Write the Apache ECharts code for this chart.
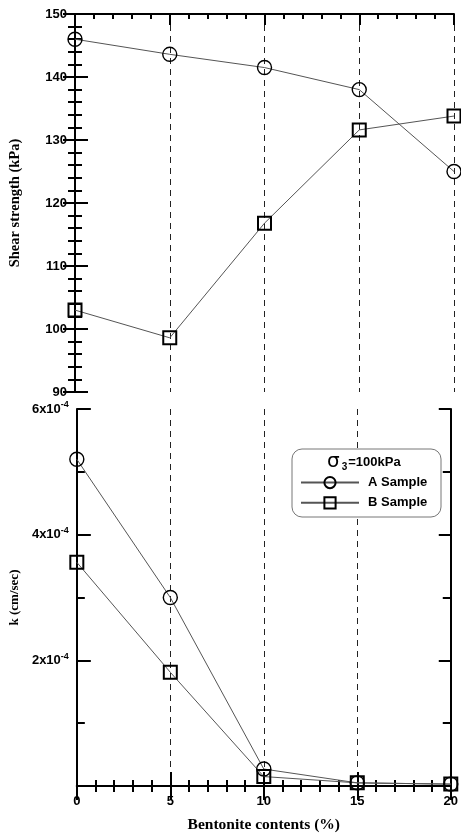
<!DOCTYPE html>
<html>
<head>
<meta charset="utf-8">
<script src="https://cdn.jsdelivr.net/npm/echarts@6/dist/echarts.min.js"></script>
<style>
html,body{margin:0;padding:0;background:#fff;}
#chart{width:461px;height:834px;}
</style>
</head>
<body>
<div id="chart"></div>
<script>
// Data
var bentonite = [0, 5, 10, 15, 20];
var shearA = [146, 143.6, 141.5, 138, 125];
var shearB = [103, 98.6, 116.8, 131.6, 133.8];
var kA = [5.2e-4, 3.0e-4, 0.27e-4, 0.05e-4, 0.03e-4];
var kB = [3.56e-4, 1.81e-4, 0.15e-4, 0.05e-4, 0.03e-4];
var seriesNames = ['A Sample', 'B Sample'];
var legendTitle = '=100kPa';

function pairs(xs, ys) { return xs.map(function (x, i) { return [x, ys[i]]; }); }

var chart = echarts.init(document.getElementById('chart'), null, {renderer: 'canvas'});
var axisColor = '#000';
var tickFont = {fontFamily: 'Liberation Sans, Arial', fontWeight: 'bold', fontSize: 13, color: '#000'};
function titleFont(sz) { return {fontFamily: 'Liberation Serif, Times New Roman', fontWeight: 'bold', fontSize: sz, color: '#000'}; }
var dashed = {show: true, lineStyle: {color: '#222', width: 1, type: [6, 5]}};
var noAxis = {show: false};

var L = 75, R = 7;
var symA = {symbol: 'circle', symbolSize: 14, itemStyle: {color: 'rgba(255,255,255,0)', borderColor: '#000', borderWidth: 1.4}};
var symB = {symbol: 'rect', symbolSize: 13, itemStyle: {color: 'rgba(255,255,255,0)', borderColor: '#000', borderWidth: 2}};
var line = {color: '#555', width: 1};

function mk(name, sym, xi, yi, data) {
  return Object.assign({
    type: 'line', name: name, xAxisIndex: xi, yAxisIndex: yi, data: data,
    lineStyle: line, showSymbol: true, animation: false, z: 5, clip: false
  }, sym);
}

var option = {
  animation: false,
  backgroundColor: '#fff',
  grid: [
    {left: L, right: R, top: 14, height: 378},
    {left: L, right: R, top: 409, height: 378}
  ],
  xAxis: [
    {gridIndex: 0, type: 'value', min: 0, max: 20, interval: 5, position: 'bottom',
     axisLine: noAxis, axisTick: noAxis, axisLabel: noAxis, splitLine: dashed},
    {gridIndex: 0, type: 'value', min: 0, max: 20, interval: 5, position: 'top',
     axisLine: {show: true, lineStyle: {color: axisColor, width: 2}},
     axisTick: {show: true, inside: true, length: 11, lineStyle: {color: axisColor, width: 2}},
     minorTick: {show: true, splitNumber: 5, length: 5, lineStyle: {color: axisColor, width: 2}},
     axisLabel: noAxis, splitLine: noAxis},
    {gridIndex: 1, type: 'value', min: 0, max: 20, interval: 5, position: 'bottom',
     axisLine: {show: true, onZero: false, lineStyle: {color: axisColor, width: 2}},
     axisTick: {show: true, inside: true, length: 8, lineStyle: {color: axisColor, width: 2}},
     minorTick: {show: true, splitNumber: 5, length: 6, lineStyle: {color: axisColor, width: 2}},
     axisLabel: Object.assign({margin: 9}, tickFont),
     splitLine: dashed,
     name: 'Bentonite contents (%)', nameLocation: 'middle', nameGap: 31, nameTextStyle: titleFont(15.5)},
    {gridIndex: 1, type: 'value', min: 0, max: 20, interval: 5, position: 'top', offset: 0,
     axisLine: {show: true, lineStyle: {color: axisColor, width: 2}},
     axisTick: {show: true, inside: true, length: 14, lineStyle: {color: axisColor, width: 2}},
     minorTick: {show: true, splitNumber: 5, length: 6, lineStyle: {color: axisColor, width: 2}},
     axisLabel: noAxis, splitLine: noAxis},
    {gridIndex: 1, type: 'value', min: 0, max: 20, interval: 5, position: 'top', offset: 0,
     axisLine: {show: false},
     axisTick: {show: true, inside: false, length: 14, lineStyle: {color: axisColor, width: 2}},
     minorTick: {show: true, splitNumber: 5, length: 6, lineStyle: {color: axisColor, width: 2}},
     axisLabel: noAxis, splitLine: noAxis}
  ],
  yAxis: [
    {gridIndex: 0, type: 'value', min: 90, max: 150, interval: 10, position: 'left',
     axisLine: {show: true, lineStyle: {color: axisColor, width: 2}},
     axisTick: {show: true, inside: true, length: 13, lineStyle: {color: axisColor, width: 2}},
     minorTick: {show: true, splitNumber: 5, length: 7, lineStyle: {color: axisColor, width: 2}},
     axisLabel: Object.assign({margin: 8}, tickFont), splitLine: noAxis,
     name: 'Shear strength (kPa)', nameLocation: 'middle', nameGap: 52, nameTextStyle: titleFont(14.5)},
    {gridIndex: 0, type: 'value', min: 90, max: 150, interval: 10, position: 'right',
     axisLine: {show: true, lineStyle: {color: axisColor, width: 2}},
     axisTick: {show: true, inside: true, length: 12, lineStyle: {color: axisColor, width: 2}},
     minorTick: {show: true, splitNumber: 5, length: 7, lineStyle: {color: axisColor, width: 2}},
     axisLabel: noAxis, splitLine: noAxis},
    {gridIndex: 1, type: 'value', min: 0, max: 6e-4, interval: 2e-4, position: 'left',
     axisLine: {show: true, onZero: false, lineStyle: {color: axisColor, width: 2}},
     axisTick: {show: true, inside: true, length: 14, lineStyle: {color: axisColor, width: 2}},
     minorTick: {show: true, splitNumber: 2, length: 8, lineStyle: {color: axisColor, width: 2}},
     axisLabel: {margin: 8, formatter: function (v) {
        var n = Math.round(v * 1e4);
        if (n === 0) return '';
        return '{a|' + n + 'x10}{s|-4}';
      }, rich: {
        a: {fontFamily: 'Liberation Sans, Arial', fontWeight: 'bold', fontSize: 13, color: '#000'},
        s: {fontFamily: 'Liberation Sans, Arial', fontWeight: 'bold', fontSize: 9, color: '#000', verticalAlign: 'top', padding: [0, 0, 8, 0]}
      }},
     splitLine: noAxis,
     name: 'k (cm/sec)', nameLocation: 'middle', nameGap: 52, nameTextStyle: titleFont(13)},
    {gridIndex: 1, type: 'value', min: 0, max: 6e-4, interval: 2e-4, position: 'right',
     axisLine: {show: true, onZero: false, lineStyle: {color: axisColor, width: 2}},
     axisTick: {show: true, inside: true, length: 12, lineStyle: {color: axisColor, width: 2}},
     minorTick: {show: true, splitNumber: 2, length: 8, lineStyle: {color: axisColor, width: 2}},
     axisLabel: noAxis, splitLine: noAxis}
  ],
  legend: {
    data: seriesNames,
    orient: 'vertical',
    left: 295, top: 471,
    itemWidth: 58, itemHeight: 14, itemGap: 7,
    textStyle: {fontFamily: 'Liberation Sans, Arial', fontWeight: 'bold', fontSize: 13, color: '#000', padding: [0, 0, 0, 4]},
    z: 20
  },
  graphic: [
    {type: 'rect', z: 10, shape: {x: 292, y: 449, width: 149, height: 68, r: 10},
     style: {fill: '#fff', stroke: '#777', lineWidth: 1}},
    {type: 'text', z: 11, left: 327, top: 452,
     style: {text: '{g|σ}{u|3}{t|' + legendTitle + '}',
      rich: {
        g: {fontFamily: 'DejaVu Sans, Arial', fontSize: 20, fill: '#000'},
        u: {fontFamily: 'Liberation Sans, Arial', fontWeight: 'bold', fontSize: 10, fill: '#000', verticalAlign: 'bottom', padding: [6, 1, 0, 2]},
        t: {fontFamily: 'Liberation Sans, Arial', fontWeight: 'bold', fontSize: 13, fill: '#000'}
      }}}
  ],
  series: [
    mk(seriesNames[0], symA, 0, 0, pairs(bentonite, shearA)),
    mk(seriesNames[1], symB, 0, 0, pairs(bentonite, shearB)),
    mk(seriesNames[0], symA, 2, 2, pairs(bentonite, kA)),
    mk(seriesNames[1], symB, 2, 2, pairs(bentonite, kB))
  ]
};
chart.setOption(option);
</script>
</body>
</html>
